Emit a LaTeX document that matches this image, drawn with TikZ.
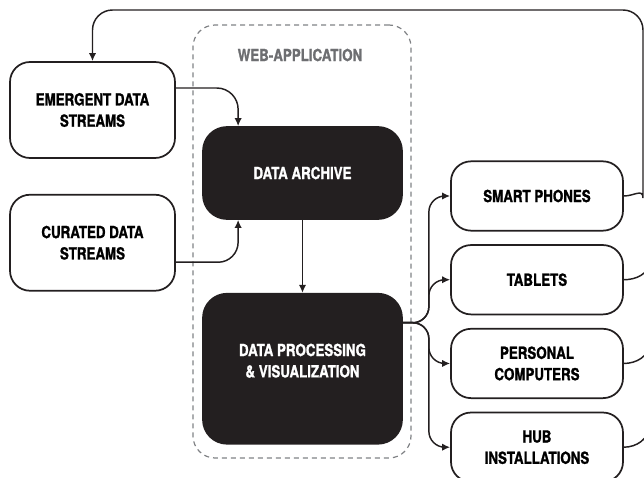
\documentclass[tikz,border=0pt]{standalone}
\usepackage{fontspec}
\setmainfont{TeX Gyre Heros}[FakeStretch=0.8,BoldFeatures={FakeBold=1.2}]
\usepackage{tikz}
\usetikzlibrary{arrows.meta,positioning,calc}
\definecolor{waink}{HTML}{231F20}
\definecolor{wadash}{HTML}{808285}
\definecolor{watitle}{HTML}{6D6E71}

\begin{document}
\begin{tikzpicture}[x=0.75pt,y=-0.75pt,
  box/.style={draw=waink,line width=1.3pt,rounded corners=15pt,fill=white,align=center,
    font=\fontsize{12.5}{16}\selectfont\bfseries,inner sep=2pt},
  src/.style={box,minimum width=123.75pt,minimum height=72pt},
  dev/.style={box,minimum width=129pt,minimum height=52pt},
  core/.style={box,fill=waink,text=white,rounded corners=18pt,minimum width=149.25pt},
  webapp/.style={draw=wadash,line width=0.9pt,dash pattern=on 3.75pt off 3pt,
    rounded corners=16.5pt,minimum width=163.5pt,minimum height=324.75pt},
  arr/.style={-{Latex[length=6pt,width=5.5pt]},line width=1.1pt,waink},
  fb/.style={line width=1.1pt,waink}]
  \useasboundingbox (0,0) rectangle (644,478);
  % web application frame
  \node[webapp] (web) at (302,241.5) {};
  \node[font=\fontsize{12.5}{16}\selectfont\bfseries,text=watitle] (webtitle) at (300,55) {WEB-APPLICATION};
  % sources
  \node[src] (em) at (92.5,110) {EMERGENT DATA\\STREAMS};
  \node[src,below=26.25pt of em] (cur) {CURATED DATA\\STREAMS};
  % core
  \node[core,minimum height=69pt] (arch) at (302.5,173) {DATA ARCHIVE};
  \node[core,minimum height=112.5pt,below=54.75pt of arch,
    label={[text=white,font=\fontsize{12.5}{16}\selectfont\bfseries,align=center,yshift=6pt]center:DATA PROCESSING\\\& VISUALIZATION}] (proc) {};
  % devices
  \node[dev] (sp) at (537,196) {SMART PHONES};
  \node[dev,below=9.5pt of sp] (tab) {TABLETS};
  \node[dev,below=9.5pt of tab] (pc) {PERSONAL\\COMPUTERS};
  \node[dev,below=9.5pt of pc] (hub) {HUB\\INSTALLATIONS};

  \coordinate (emOut) at ($(em.east)+(0,-22)$);
  \coordinate (curOut) at ($(cur.east)+(0,19.5)$);
  \coordinate (archInT) at ($(arch.north west)+(36,0)$);
  \coordinate (archInB) at ($(arch.south west)+(36,0)$);
  \draw[arr,rounded corners=16pt] (emOut) -| (archInT);
  \draw[arr,rounded corners=15pt] (curOut) -| (archInB);
  \draw[arr] (arch.south) -- (proc.north);

  \coordinate (fork) at ($(proc.east)+(0,-46)$);
  \coordinate (bus) at ($(fork)+(26,0)$);
  \foreach \d in {sp,tab,pc,hub}
    \draw[arr,rounded corners=12pt] (fork) -- (bus) |- (\d.west);

  % feedback to the sources
  \coordinate (loopUp) at (643,178);
  \coordinate (loopTR) at (643,10);
  \draw[arr,rounded corners=15pt] (sp.east) to[out=0,in=-90] (loopUp) -- (loopTR)
    -- (loopTR -| em.north) -- (em.north);
  \foreach \d/\yy in {tab/262,pc/344,hub/426}
    \draw[fb] (\d.east) to[out=0,in=-90] (649,\yy);
\end{tikzpicture}
\end{document}
